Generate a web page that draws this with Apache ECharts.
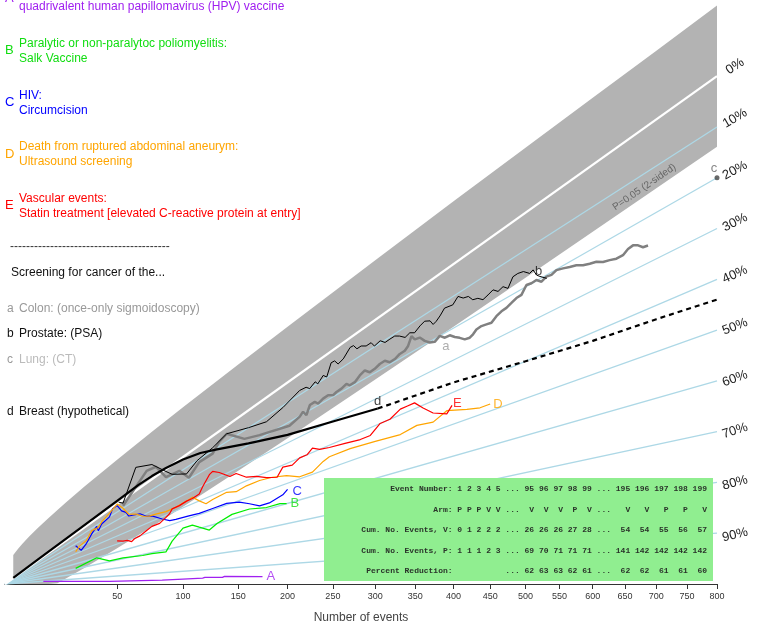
<!DOCTYPE html>
<html><head><meta charset="utf-8">
<script src="https://cdn.jsdelivr.net/npm/echarts@6/dist/echarts.min.js"></script>
<style>html,body{margin:0;padding:0;background:#fff}#c{width:761px;height:629px}</style>
</head><body><div id="c"></div>
<script>
// ---------- data ----------
const xTicks = [50,100,150,200,250,300,350,400,450,500,550,600,650,700,750,800];
const xMaxEvents = 800;
const percentLines = [0,10,20,30,40,50,60,70,80,90];
const percentLabels = ['0%','10%','20%','30%','40%','50%','60%','70%','80%','90%'];

// P=0.05 (2-sided) non-significance band, relative risk bounds at n events
const bandN = [1,2,3,5,8,12,16,20,30,50,75,100,150,200,300,400,500,600,700,800];
const bandUpperRR = [4.920,3.772,3.263,2.753,2.386,2.132,1.980,1.877,1.716,1.554,1.453,1.392,1.320,1.277,1.226,1.196,1.175,1.160,1.148,1.139];
const bandLowerRR = [0,0,0,0,0,0,0.020,0.124,0.284,0.446,0.547,0.608,0.680,0.723,0.774,0.804,0.825,0.840,0.852,0.861];

// trials: number of events, percent reduction
const trialA_n = [10,45,46,83,84,100,101,117,119,135,137,174];
const trialA_red = [90.2,96.5,94.8,96.5,95.6,96.1,95.4,95.8,95.4,95.75,95.15,95.96];
const trialB_n = [25,37,45,54,68,75,86,91,100,108,114,123,130,144,161,178,192,199];
const trialB_red = [69,60,69,69,71,71,72,64,56,56,59,63,60,57,57,59,59,60];
const trialC_n = [25,28,31,34,37,38,40,45,47,50,53,56,58,66,71,75,83,89,94,105,114,126,139,151,161,171,181,195,200];
const trialC_red = [24,38,30,19,12,20,13,10,2,2,12,17,23,27,33,35,42,46,47,48,49,49,49,51,54,57,57,55,53];
const trialD_n = [25,27,31,34,38,40,45,50,54,58,63,68,73,78,86,94,103,108,114,120,126,139,148,158,171,184,199,213,227,239,246,270,300,331,352,373,391,418,436,450];
const trialD_red = [36,29,25,14,15,10,5,0,10,21,25,31,34,35,37,37,36,35,40,44,43,42,44,43,43,44,46,49,49,46,45,45,46,47,46,47,45,47,48,48];
const trialE_n = [50,54,57,60,62,66,71,75,81,86,89,91,97,103,108,114,117,123,126,132,142,148,158,168,178,189,195,205,213,221,227,235,246,264,282,294,306,318,331,340,349,360,373,391,398];
const trialE_red = [46,49,50,53,51,50,47,45,45,42,40,37,37,36,36,35,31,25,24,27,33,33,38,40,43,45,41,42,40,40,38,40,41,42,43,43,40,40,38,38,38,41,44,46,44];
const screenA_n = [54,71,78,86,97,105,114,126,132,139,156,171,202,
  213.1,216.7,220.4,224.1,229.6,233.3,238.9,244.5,250.3,254.1,259.9,265.7,269.6,275.5,281.4,287.4,293.4,299.4,305.5,311.7,
  317.8,324.1,330.3,336.6,340.8,345.1,349.3,355.7,362.1,368.6,375.1,381.7,388.4,395,401.7,408.3,415.1,421.9,426.4,431,
  437.9,444.8,451.8,458.7,465.8,472.8,479.9,487,494.2,501.4,508.6,515.9,523.2,530.5,537.9,545.3,555.1,565.1,575.1,585.2,
  595.4,605.6,615.8,626.1,636.6,646.9,654.8,662.7,670.7,678.6,686.6];
const screenA_red = [7,-12,-9,7,9,19,12,12,7,5,15,18,22,
  20.4,19.0,21.4,17.7,17.6,19.2,18.3,18.1,19.3,18.8,18.6,17.8,19.2,19.1,17.6,16.8,18.6,18.4,17.7,17.6,
  19.2,19.1,18.3,18.2,17.2,14.5,16.3,16.7,18.8,20.3,21.0,20.0,21.5,21.6,23.0,24.1,25.4,25.7,25.2,24.3,
  24.1,24.4,24.7,23.6,23.0,22.8,22.2,21.6,21.5,19.6,19.9,19.8,21.0,20.4,20.7,20.2,20.7,21.3,21.8,22.7,
  23.2,23.6,24.5,24.9,25.4,25.4,24.6,24.4,25.0,26.0,26.2];
const screenB_n = [51,54,63,75,86,91,103,112,126,139,160,178,195,
  213,220,224,230,233,239,243,248,252,256,262,270,274,278,283,289,295,299,306,312,318,324,330,337,343,349,356,362,369,373,
  377,382,388,399,406,413,420,426,433,440,447,454,461,468,475,482,489,497,506,511,516,521,531];
const screenB_red = [-1,4,-25,-14,2,8,15,10,8,5,10,13,11,
  7.9,8.4,10.1,8.6,10.3,8.1,9.8,4.9,5.1,7.4,6.7,3.9,4.1,6.3,6.3,7.6,7.6,9.7,9.1,10.9,10.8,10.8,11.9,13.6,13.0,14.0,12.8,12.2,13.2,15.0,
  14.6,13.6,12.0,12.6,11.0,12.5,13.0,14.8,15.3,16.6,16.1,15.5,16.8,16.3,17.6,15.2,15.1,15.5,17.0,16.6,18.5,19.4,20.9];
const screenC_n = [800];
const screenC_red = [20];
const screenD_n = [1,8,27,50,65,75,86,100,115,130,160,200,250,303];
const screenD_red = [-4,-4,-4,-4,-4,-3,-1,2,6,11,19,26,30.5,34];
const screenDproj_n = [303,400,500,600,700,800];
const screenDproj_red = [34,37,40,42,43,44];

// table
const tableLabels = ['Event Number:','Arm:','Cum. No. Events, V:','Cum. No. Events, P:','Percent Reduction:'];
const tableEvent = [[1,2,3,4,5],[95,96,97,98,99],[195,196,197,198,199]];
const tableArm = [['P','P','P','V','V'],['V','V','V','P','V'],['V','V','P','P','V']];
const tableCumV = [[0,1,2,2,2],[26,26,26,27,28],[54,54,55,56,57]];
const tableCumP = [[1,1,1,2,3],[69,70,71,71,71],[141,142,142,142,142]];
const tablePct = [[null,null,null,null,null],[62,63,63,62,61],[62,62,61,61,60]];

// legend text
const legendTrials = [
  {key:'A', lines:['', 'quadrivalent human papillomavirus (HPV) vaccine'], color:'#a020f0'},
  {key:'B', lines:['Paralytic or non-paralytoc poliomyelitis:', 'Salk Vaccine'], color:'#11dd11'},
  {key:'C', lines:['HIV:', 'Circumcision'], color:'#0000ff'},
  {key:'D', lines:['Death from ruptured abdominal aneurym:', 'Ultrasound screening'], color:'#ffa500'},
  {key:'E', lines:['Vascular events:', 'Statin treatment [elevated C-reactive protein at entry]'], color:'#ff0000'}
];
const screeningTitle = 'Screening for cancer of the...';
const legendScreen = [
  {key:'a', text:'Colon: (once-only sigmoidoscopy)', keyColor:'#999999', color:'#999999'},
  {key:'b', text:'Prostate: (PSA)', keyColor:'#111111', color:'#111111'},
  {key:'c', text:'Lung: (CT)', keyColor:'#999999', color:'#bbbbbb'},
  {key:'d', text:'Breast (hypothetical)', keyColor:'#111111', color:'#111111'}
];

// ---------- helpers ----------
const FONT = '"Liberation Sans", Arial, sans-serif';
const U = n => Math.pow(n, 2/3);
const pt = (n, red) => [U(n), (1 - red/100) * U(n)];
const rrPt = (n, rr) => [U(n), rr * U(n)];
const uMax = U(xMaxEvents);

const series = [];

// band
series.push({
  type:'custom', silent:true, z:1, animation:false,
  data:[[0,0]],
  renderItem:(params, api) => {
    const up = bandN.map((n,i)=>api.coord(rrPt(n, bandUpperRR[i])));
    const lo = bandN.map((n,i)=>api.coord(rrPt(n, bandLowerRR[i]))).reverse();
    return {type:'polygon', shape:{points: up.concat(lo)}, style:{fill:'#b3b3b3'}};
  }
});

// percent reduction fan lines
percentLines.forEach(p => {
  series.push({
    type:'line', silent:true, animation:false, symbol:'none',
    z: p === 0 ? 3 : 2,
    data:[[0,0], pt(xMaxEvents, p)],
    lineStyle:{color: p === 0 ? '#ffffff' : '#add8e6', width: p === 0 ? 2.2 : 1.3}
  });
});

function trial(ns, reds, color, width, type, z) {
  return {type:'line', silent:true, animation:false, symbol:'none', z: z || 5,
    data: ns.map((n,i)=>pt(n, reds[i])),
    lineStyle:{color, width, type: type || 'solid'}};
}
series.push(trial(trialA_n, trialA_red, '#a020f0', 1.3));
series.push(trial(trialB_n, trialB_red, '#00ee00', 1.2));
series.push(trial(trialC_n, trialC_red, '#0000ff', 1.2));
series.push(trial(trialD_n, trialD_red, '#ffa500', 1.2));
series.push(trial(trialE_n, trialE_red, '#ff0000', 1.2));
series.push(trial(screenA_n, screenA_red, '#808080', 2.5));
series.push(trial(screenB_n, screenB_red, '#000000', 1));
series.push(trial(screenD_n, screenD_red, '#000000', 2.2));
series.push(trial(screenDproj_n, screenDproj_red, '#000000', 2.2, [5,4]));

// lung CT point
series.push({type:'scatter', silent:true, animation:false, z:6, symbolSize:5,
  itemStyle:{color:'#444444'},
  data: screenC_n.map((n,i)=>pt(n, screenC_red[i]))});

// series labels
const labelSpecs = [
  {text:'A', n:trialA_n, r:trialA_red, idx:trialA_n.length-1, color:'#a020f0', off:[4,0], align:'left'},
  {text:'B', n:trialB_n, r:trialB_red, idx:trialB_n.length-1, color:'#11dd11', off:[4,0], align:'left'},
  {text:'C', n:trialC_n, r:trialC_red, idx:trialC_n.length-1, color:'#0000ff', off:[5,2], align:'left'},
  {text:'D', n:trialD_n, r:trialD_red, idx:trialD_n.length-1, color:'#ffa500', off:[3,0], align:'left'},
  {text:'E', n:trialE_n, r:trialE_red, idx:trialE_n.length-1, color:'#ff0000', off:[1,-2], align:'left'},
  {text:'a', n:screenA_n, r:screenA_red, idx:44, color:'#999999', off:[6,10], align:'center'},
  {text:'b', n:screenB_n, r:screenB_red, idx:63, color:'#111111', off:[2,-4], align:'center'},
  {text:'c', n:screenC_n, r:screenC_red, idx:0, color:'#666666', off:[-3,-9], align:'center'},
  {text:'d', n:screenD_n, r:screenD_red, idx:screenD_n.length-1, color:'#111111', off:[0,-7], align:'center'}
];
series.push({type:'scatter', silent:true, animation:false, z:7, symbolSize:0,
  data: labelSpecs.map(s => ({
    value: pt(s.n[s.idx], s.r[s.idx]),
    label:{show:true, position:'inside', formatter:s.text, color:s.color, offset:s.off,
      align:s.align, verticalAlign:'middle', fontSize:13, fontFamily:FONT}
  }))});

const tickU = xTicks.map(U);

const option = {
  animation:false,
  backgroundColor:'#ffffff',
  grid:{left:5, right:44, top:0, bottom:38, containLabel:false},
  xAxis:{type:'value', min:0, max:uMax,
    name:'Number of events', nameLocation:'middle', nameGap:28,
    nameTextStyle:{fontSize:12, color:'#444', fontFamily:FONT},
    axisLine:{show:true, onZero:false, lineStyle:{color:'#333', width:1}},
    axisTick:{show:true, customValues:tickU, length:5, lineStyle:{color:'#333'}},
    axisLabel:{show:true, customValues:tickU, fontSize:9, color:'#333', margin:8, fontFamily:FONT,
      formatter: v => { let best = xTicks[0]; xTicks.forEach(t => { if (Math.abs(U(t)-v) < Math.abs(U(best)-v)) best = t; }); return String(best); }},
    splitLine:{show:false}
  },
  yAxis:{type:'value', min:0, max:99.1, show:false, splitLine:{show:false}},
  series
};

const chart = echarts.init(document.getElementById('c'), null, {renderer:'canvas'});
chart.setOption(option);

// ---------- graphics computed from chart coordinates ----------
const g = [];
const toPx = v => chart.convertToPixel({gridIndex:0}, v);

// percent labels beyond the right end of each fan line
percentLines.forEach((p,i) => {
  const a = toPx([0,0]);
  const b = toPx(pt(xMaxEvents, p));
  const slope = (b[1]-a[1])/(b[0]-a[0]);
  const dx = 18;
  const rot = (11 + 22*(1 - p/100)) * Math.PI/180;
  g.push({type:'text', x:b[0]+dx, y:b[1]+slope*dx+3, rotation:rot, z:20,
    style:{text:percentLabels[i], x:0, y:0, align:'center', verticalAlign:'middle',
      fill:'#222', fontSize:13, fontFamily:FONT}});
});

// P=0.05 label along the lower band edge
{
  const k = bandN.indexOf(700);
  const q = toPx(rrPt(bandN[k], bandLowerRR[k]));
  const q2 = toPx(rrPt(bandN[k-1], bandLowerRR[k-1]));
  const ang = Math.atan2(-(q[1]-q2[1]), q[0]-q2[0]);
  g.push({type:'text', x:q[0]-12, y:q[1]-1, rotation:ang, z:20,
    style:{text:'P=0.05 (2-sided)', x:0, y:0, align:'center', verticalAlign:'middle',
      fill:'#666', fontSize:10, fontFamily:FONT}});
}

// legend: trials
legendTrials.forEach((t,i) => {
  const y1 = -8 + i*51.7;
  const ky = i === 0 ? -2 : y1 + 7;
  g.push({type:'text', x:5, y:ky, z:20, style:{text:t.key, fill:t.color, fontSize:13, fontFamily:FONT, verticalAlign:'middle'}});
  t.lines.forEach((ln,j) => {
    if (!ln) return;
    g.push({type:'text', x:19, y:y1+j*15, z:20, style:{text:ln, fill:t.color, fontSize:12, fontFamily:FONT, verticalAlign:'middle'}});
  });
});
g.push({type:'text', x:10, y:247, z:20, style:{text:'-'.repeat(40), fill:'#333', fontSize:12, fontFamily:FONT, verticalAlign:'middle'}});
g.push({type:'text', x:11, y:273, z:20, style:{text:screeningTitle, fill:'#111', fontSize:12, fontFamily:FONT, verticalAlign:'middle'}});
const screenY = [309, 334, 360, 412];
legendScreen.forEach((s,i) => {
  g.push({type:'text', x:7, y:screenY[i], z:20, style:{text:s.key, fill:s.keyColor, fontSize:12, fontFamily:FONT, verticalAlign:'middle'}});
  g.push({type:'text', x:19, y:screenY[i], z:20, style:{text:s.text, fill:s.color, fontSize:12, fontFamily:FONT, verticalAlign:'middle'}});
});

// table
function grp(arr, w) { return arr.map(v => (v === null ? '' : String(v)).padStart(w)).join(' '); }
function row(label, groups) {
  return label.padStart(19) + ' ' + grp(groups[0],1) + ' ... ' + grp(groups[1],2) + ' ... ' + grp(groups[2],3);
}
const tableData = [tableEvent, tableArm, tableCumV, tableCumP, tablePct];
g.push({type:'rect', z:15, shape:{x:324, y:478, width:389, height:103}, style:{fill:'#90ee90'}});
tableData.forEach((d,i) => {
  g.push({type:'text', x:707, y:489 + i*20.5, z:16,
    style:{text: row(tableLabels[i], d), align:'right', verticalAlign:'middle',
      fill:'#2a332a', fontSize:8, fontWeight:'bold', fontFamily:'"Liberation Mono", "Courier New", monospace'}});
});

chart.setOption({graphic: g});
</script>
</body></html>
